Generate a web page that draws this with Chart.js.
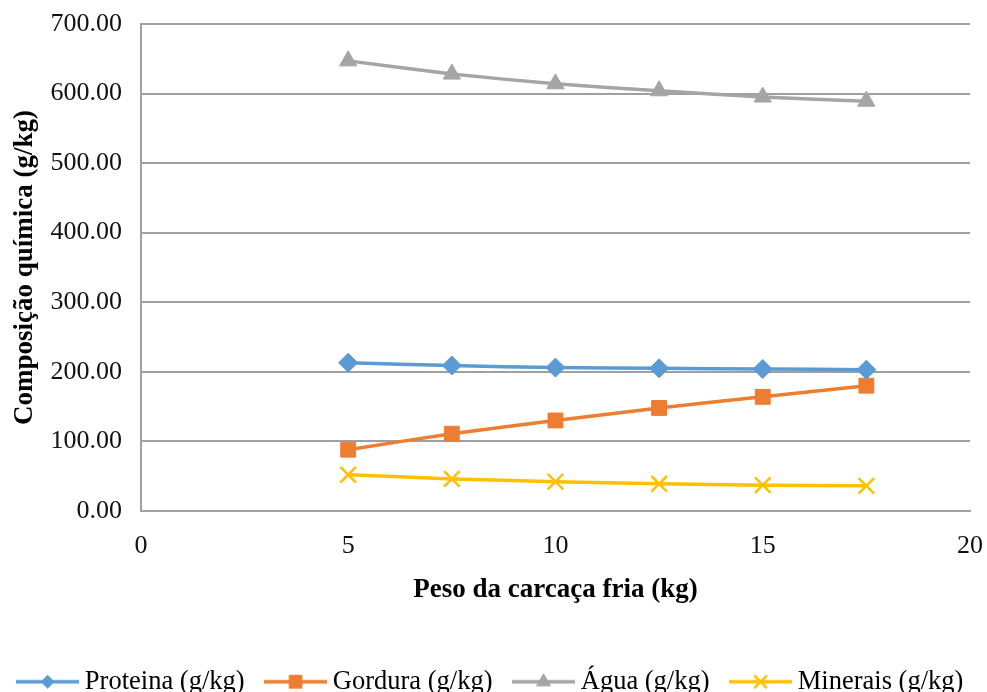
<!DOCTYPE html>
<html>
<head>
<meta charset="utf-8">
<script src="https://cdn.jsdelivr.net/npm/chart.js@4.4.0/dist/chart.umd.min.js"></script>
<style>
    html, body { margin: 0; padding: 0; background: #fff; }
    #wrap { width: 987px; height: 692px; }
</style>
</head>
<body>
<div id="wrap"><canvas id="chart"></canvas></div>
<script>
// peso da carcaça fria (kg)
const pesos = [5, 7.5, 10, 12.5, 15, 17.5];
const proteina = [213, 209, 206, 205, 204, 203];
const gordura = [88, 111, 130, 148, 164, 180];
const agua = [647, 628, 614, 604, 595, 589];
const minerais = [52, 46, 42, 39, 37, 36];
const seriesNames = ['Proteina (g/kg)', 'Gordura (g/kg)', 'Água (g/kg)', 'Minerais (g/kg)'];
const xTicks = [0, 5, 10, 15, 20];
const yTicks = [0, 100, 200, 300, 400, 500, 600, 700];

const colors = ['#5B9BD5', '#ED7D31', '#A5A5A5', '#FFC000'];
const styles = ['rectRot', 'rect', 'triangle', 'crossRot'];
const radii = [9.5, 10.5, 10, 11];
const legendRadii = [6.5, 9, 8, 9];
const values = [proteina, gordura, agua, minerais];

function toPoints(arr) {
    return pesos.map((p, i) => ({ x: p, y: arr[i] }));
}

// small canvas for legend: line with marker in the middle
function legendIcon(i) {
    const c = document.createElement('canvas');
    c.width = 63;
    c.height = 22;
    const ctx = c.getContext('2d');
    ctx.strokeStyle = colors[i];
    ctx.fillStyle = colors[i];
    ctx.lineWidth = 3.5;
    ctx.beginPath();
    ctx.moveTo(0, 11);
    ctx.lineTo(63, 11);
    ctx.stroke();
    ctx.lineWidth = styles[i] === 'crossRot' ? 2.5 : 1;
    Chart.helpers.drawPoint(ctx, {
        pointStyle: styles[i],
        radius: legendRadii[i],
        rotation: 0,
        borderWidth: ctx.lineWidth
    }, 31.5, 11);
    return c;
}

const datasets = values.map((arr, i) => ({
    label: seriesNames[i],
    data: toPoints(arr),
    borderColor: colors[i],
    backgroundColor: colors[i],
    borderWidth: 3.5,
    pointStyle: styles[i],
    pointRadius: radii[i],
    pointHoverRadius: radii[i],
    pointBorderWidth: styles[i] === 'crossRot' ? 2.5 : 1,
    showLine: true,
    tension: 0.15
}));

const serif = 'Liberation Serif, Times New Roman, serif';

new Chart(document.getElementById('chart'), {
    type: 'scatter',
    data: { datasets: datasets },
    options: {
        responsive: true,
        maintainAspectRatio: false,
        animation: false,
        layout: { padding: { left: -10, right: -10, top: 0, bottom: -13 } },
        plugins: {
            tooltip: { enabled: false },
            legend: {
                position: 'bottom',
                labels: {
                    usePointStyle: true,
                    pointStyleWidth: 48,
                    padding: 27,
                    color: '#000',
                    font: { family: serif, size: 26.5 },
                    generateLabels: chart => chart.data.datasets.map((ds, i) => ({
                        text: ds.label,
                        pointStyle: legendIcon(i),
                        fillStyle: colors[i],
                        strokeStyle: colors[i],
                        lineWidth: 0,
                        hidden: false,
                        datasetIndex: i
                    }))
                }
            }
        },
        scales: {
            x: {
                type: 'linear',
                min: 0,
                max: 20,
                afterBuildTicks: axis => { axis.ticks = xTicks.map(v => ({ value: v })); },
                afterFit: axis => { axis.paddingRight = 17; },
                grid: { display: false, drawTicks: false },
                border: { display: true, color: '#a0a0a0', width: 2 },
                ticks: {
                    color: '#111',
                    padding: 20,
                    font: { family: serif, size: 26 }
                },
                title: {
                    display: true,
                    text: 'Peso da carcaça fria (kg)',
                    color: '#000',
                    font: { family: serif, size: 27, weight: 'bold' },
                    padding: { top: -8, bottom: 35 }
                }
            },
            y: {
                min: 0,
                max: 700,
                afterBuildTicks: axis => { axis.ticks = yTicks.map(v => ({ value: v })); },
                afterFit: axis => { axis.paddingTop = 24; },
                grid: { color: '#a0a0a0', lineWidth: 2, drawTicks: false },
                border: { display: true, color: '#a0a0a0', width: 2 },
                ticks: {
                    color: '#111',
                    padding: 19,
                    font: { family: serif, size: 26 },
                    callback: v => Number(v).toFixed(2)
                },
                title: {
                    display: true,
                    text: 'Composição química (g/kg)',
                    color: '#000',
                    font: { family: serif, size: 27, weight: 'bold' },
                    padding: { top: 19, bottom: -10 }
                }
            }
        }
    }
});
</script>
</body>
</html>
